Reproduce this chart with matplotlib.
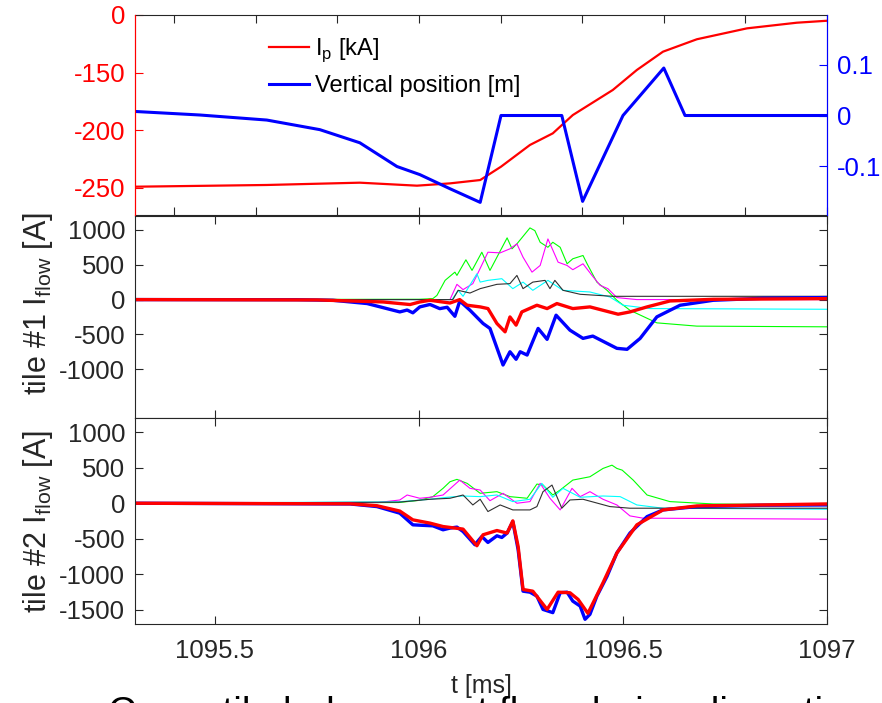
import matplotlib
matplotlib.use("Agg")
import matplotlib.pyplot as plt
import numpy as np

plt.rcParams['font.family'] = ['Liberation Sans', 'DejaVu Sans']
plt.rcParams['axes.unicode_minus'] = False

# top panel: plasma current (left axis) and vertical position (right axis)
t_ip = [1095.304, 1095.627, 1095.855, 1095.995, 1096.076, 1096.150, 1096.201, 1096.272,
        1096.328, 1096.377, 1096.475, 1096.534, 1096.598, 1096.681, 1096.804, 1096.926, 1097.0]
ip = [-249.3, -247.8, -245.8, -248.4, -246.4, -243.5, -231.9, -213.0,
      -202.9, -187.0, -165.2, -147.8, -131.9, -121.1, -111.6, -106.7, -105.0]
ip_ticks = [-250, -200, -150, -100]
ip_ticklabels = ['-250', '-200', '-150', '0']

t_z = [1095.304, 1095.463, 1095.627, 1095.757, 1095.855, 1095.946, 1096.002, 1096.076,
       1096.150, 1096.201, 1096.350, 1096.401, 1096.500, 1096.600, 1096.652, 1097.0]
zpos = [0.008, 0.001, -0.009, -0.028, -0.054, -0.101, -0.117, -0.145,
        -0.172, 0.0, 0.0, -0.170, 0.0, 0.094, 0.0, 0.0]

# tile #1 currents
t1_blue = [1095.304, 1095.70, 1095.789, 1095.873, 1095.953, 1095.971, 1095.985, 1096.002, 1096.027,
           1096.051, 1096.069, 1096.088, 1096.100, 1096.125, 1096.157, 1096.174, 1096.206, 1096.223,
           1096.238, 1096.248, 1096.265, 1096.292, 1096.314, 1096.336, 1096.370, 1096.402, 1096.426,
           1096.485, 1096.510, 1096.542, 1096.583, 1096.640, 1096.721, 1096.843, 1097.0]
i1_blue = [0, -2, -10, -57, -177, -150, -190, -105, -70,
           -130, -110, -240, -20, -153, -343, -414, -939, -749,
           -857, -749, -796, -414, -571, -224, -439, -557, -524,
           -700, -714, -557, -248, -81, -10, 19, 29]
t1_red = [1095.304, 1095.75, 1095.912, 1095.978, 1096.002, 1096.027, 1096.076, 1096.100, 1096.118,
          1096.150, 1096.169, 1096.191, 1096.211, 1096.223, 1096.238, 1096.252, 1096.289, 1096.314,
          1096.338, 1096.377, 1096.419, 1096.488, 1096.517, 1096.559, 1096.615, 1096.721, 1097.0]
i1_red = [0, -5, -34, -71, -34, -10, -49, 0, -81,
          -105, -129, -343, -463, -249, -367, -177, -81, -129,
          -57, -129, -105, -210, -177, -105, -20, 4, 14]
t1_green = [1095.304, 1096.0, 1096.034, 1096.044, 1096.064, 1096.088, 1096.093, 1096.115, 1096.130,
            1096.154, 1096.174, 1096.216, 1096.228, 1096.240, 1096.272, 1096.284, 1096.297, 1096.316,
            1096.328, 1096.346, 1096.363, 1096.377, 1096.402, 1096.412, 1096.436, 1096.461, 1096.485,
            1096.517, 1096.583, 1096.681, 1097.0]
i1_green = [0, 5, 14, 60, 276, 394, 347, 571, 419,
            680, 419, 886, 729, 800, 1029, 990, 823, 751,
            823, 751, 514, 586, 633, 514, 251, 133, -10,
            -153, -334, -381, -391]
t1_mag = [1095.304, 1096.076, 1096.093, 1096.108, 1096.132, 1096.169, 1096.199, 1096.223, 1096.240,
          1096.255, 1096.277, 1096.297, 1096.316, 1096.341, 1096.363, 1096.377, 1096.402, 1096.424,
          1096.444, 1096.463, 1096.485, 1096.534, 1097.0]
i1_mag = [0, 0, 219, 143, 229, 680, 671, 729, 800,
          609, 394, 490, 871, 537, 490, 429, 514, 347,
          204, 157, 29, 0, 0]
t1_cyan = [1095.304, 1096.081, 1096.096, 1096.108, 1096.142, 1096.150, 1096.169, 1096.203, 1096.230,
           1096.255, 1096.279, 1096.316, 1096.353, 1096.419, 1096.468, 1096.500, 1096.566, 1097.0]
i1_cyan = [0, 0, 133, 47, 371, 251, 276, 300, 157,
           251, 133, 276, 133, 109, 37, -81, -129, -139]
t1_black = [1095.304, 1096.083, 1096.096, 1096.125, 1096.150, 1096.191, 1096.223, 1096.240, 1096.255,
            1096.279, 1096.309, 1096.321, 1096.333, 1096.353, 1096.395, 1096.475, 1097.0]
i1_black = [0, 0, 133, 94, 157, 219, 229, 347, 157,
            251, 276, 157, 276, 133, 76, 47, 47]

# tile #2 currents
t2_blue = [1095.304, 1095.831, 1095.897, 1095.953, 1095.985, 1096.034, 1096.059, 1096.076, 1096.093,
           1096.108, 1096.137, 1096.154, 1096.169, 1096.191, 1096.203, 1096.216, 1096.230, 1096.243,
           1096.255, 1096.272, 1096.289, 1096.304, 1096.328, 1096.346, 1096.363, 1096.377, 1096.395,
           1096.407, 1096.419, 1096.436, 1096.461, 1096.485, 1096.517, 1096.559, 1096.598, 1096.681,
           1096.843, 1097.0]
i2_blue = [0, -10, -47, -140, -304, -318, -374, -350, -336,
           -398, -584, -468, -552, -458, -482, -420, -258, -654,
           -1238, -1252, -1308, -1495, -1540, -1260, -1252, -1378, -1448,
           -1634, -1564, -1308, -1028, -700, -420, -188, -94, -47,
           -28, -24]
t2_red = [1095.304, 1095.831, 1095.897, 1095.953, 1095.985, 1096.027, 1096.059, 1096.108, 1096.142,
          1096.157, 1096.191, 1096.216, 1096.230, 1096.243, 1096.255, 1096.279, 1096.314, 1096.341,
          1096.370, 1096.390, 1096.414, 1096.451, 1096.485, 1096.534, 1096.598, 1096.681, 1097.0]
i2_red = [0, -8, -35, -110, -234, -280, -328, -364, -598,
          -444, -384, -420, -248, -608, -1214, -1238, -1495, -1252,
          -1260, -1354, -1550, -1120, -700, -304, -94, -38, -10]
t2_green = [1095.304, 1095.95, 1096.0, 1096.034, 1096.059, 1096.076, 1096.093, 1096.118, 1096.150,
            1096.191, 1096.223, 1096.265, 1096.289, 1096.304, 1096.328, 1096.346, 1096.377, 1096.419,
            1096.451, 1096.473, 1096.485, 1096.498, 1096.525, 1096.559, 1096.615, 1096.721, 1097.0]
i2_green = [0, 10, 40, 93, 210, 303, 336, 280, 140,
            163, 93, 70, 270, 256, 116, 186, 326, 373,
            490, 536, 490, 466, 326, 116, 23, -10, -24]
t2_mag = [1095.304, 1095.90, 1095.953, 1095.971, 1096.002, 1096.027, 1096.059, 1096.100, 1096.125,
          1096.150, 1096.174, 1096.206, 1096.240, 1096.272, 1096.297, 1096.321, 1096.346, 1096.375,
          1096.395, 1096.419, 1096.451, 1096.485, 1096.517, 1096.549, 1097.0]
i2_mag = [0, 10, 46, 116, 70, 84, 116, 326, 210,
          186, 36, 140, 0, 23, 280, 70, -94, 210,
          93, 163, 56, -24, -178, -210, -224]
t2_cyan = [1095.304, 1095.95, 1096.027, 1096.069, 1096.108, 1096.150, 1096.191, 1096.230, 1096.272,
           1096.301, 1096.328, 1096.353, 1096.395, 1096.451, 1096.493, 1096.534, 1096.598, 1097.0]
i2_cyan = [0, 20, 56, 84, 102, 93, 116, 23, 56,
           280, 84, 210, 84, 102, 93, -24, -70, -84]
t2_black = [1095.304, 1095.95, 1096.027, 1096.076, 1096.108, 1096.132, 1096.150, 1096.169, 1096.199,
            1096.230, 1096.272, 1096.289, 1096.304, 1096.326, 1096.350, 1096.370, 1096.402, 1096.468,
            1096.517, 1097.0]
i2_black = [0, 15, 56, 70, 116, -24, 56, -117, -24,
            -94, -94, -47, 163, 256, -70, 46, 56, -47,
            -70, -70]

fig = plt.figure(figsize=(8.82, 7.03), dpi=100)
W = 692 / 882
L = 135 / 882
ax0 = fig.add_axes([L, 1 - 215 / 703, W, 200 / 703])
ax1 = fig.add_axes([L, 1 - 418 / 703, W, 202 / 703])
ax2 = fig.add_axes([L, 1 - 624 / 703, W, 206 / 703])

gray = '#262626'
fs = 18.5

# --- top panel
ax0.plot(t_ip, ip, color='#ff0000', lw=1.6, label='I$_\\mathregular{p}$ [kA]')
ax0.plot([], [], color='#0000ff', lw=2.2, label='Vertical position [m]')
ax0.set_xlim(1095.304, 1097.0)
ax0.set_ylim(-273.9, -100)
ax0.set_yticks(ip_ticks)
ax0.set_yticklabels(ip_ticklabels)
ax0.set_xticks(np.arange(1095.4, 1097.01, 0.2))
ax0.tick_params(axis='x', direction='in', top=True, labelbottom=False, length=6, color=gray)
ax0.tick_params(axis='y', direction='in', colors='#ff0000', labelsize=fs, length=6, pad=7)
ax0.spines['left'].set_color('#ff0000')
ax0.spines['right'].set_color('#0000ff')
for s in ['top', 'bottom']:
    ax0.spines[s].set_color(gray)
ax0r = ax0.twinx()
ax0r.plot(t_z, zpos, color='#0000ff', lw=2.2)
ax0r.set_ylim(-0.197, 0.199)
ax0r.set_yticks([-0.1, 0, 0.1])
ax0r.set_yticklabels(['-0.1', '0', '0.1'])
ax0r.tick_params(axis='y', direction='in', colors='#0000ff', labelsize=fs, length=6, pad=7)
ax0r.spines['right'].set_color('#0000ff')
ax0r.spines['left'].set_color('#ff0000')
ax0r.spines['top'].set_visible(False)
ax0r.spines['bottom'].set_visible(False)
ax0.legend(loc='upper left', bbox_to_anchor=(0.18, 0.94), frameon=False, fontsize=17,
           handlelength=1.7, handletextpad=0.25, labelspacing=0.45, borderaxespad=0)

# --- tile panels
def tile_panel(ax, series, yticks, label, label_y):
    for tt, ii, c, lw in series:
        ax.plot(tt, ii, color=c, lw=lw)
    ax.set_xlim(1095.304, 1097.0)
    ax.set_ylim(-1700, 1200)
    ax.set_yticks(yticks)
    ax.set_xticks([1095.5, 1096, 1096.5, 1097])
    ax.tick_params(direction='in', top=True, right=True, length=6, colors=gray,
                   labelsize=fs, pad=7)
    ax.tick_params(axis='x', pad=11)
    for s in ax.spines.values():
        s.set_color(gray)
    ax.set_ylabel(label, fontsize=22, color=gray)
    ax.yaxis.set_label_coords(-0.115, label_y)

tile_panel(ax1, [(t1_green, i1_green, '#00ff00', 0.8), (t1_mag, i1_mag, '#ff00ff', 0.8),
                 (t1_cyan, i1_cyan, '#00ffff', 0.8), (t1_black, i1_black, '#303030', 0.8),
                 (t1_blue, i1_blue, '#0000ff', 2.4), (t1_red, i1_red, '#ff0000', 2.4)],
           [-1000, -500, 0, 500, 1000], 'tile #1 I$_\\mathregular{flow}$ [A]', 0.565)
tile_panel(ax2, [(t2_green, i2_green, '#00ff00', 0.8), (t2_mag, i2_mag, '#ff00ff', 0.8),
                 (t2_cyan, i2_cyan, '#00ffff', 0.8), (t2_black, i2_black, '#303030', 0.8),
                 (t2_blue, i2_blue, '#0000ff', 2.4), (t2_red, i2_red, '#ff0000', 2.4)],
           [-1500, -1000, -500, 0, 500, 1000], 'tile #2 I$_\\mathregular{flow}$ [A]', 0.5)
ax1.set_xticklabels([])
ax2.set_xticklabels(['1095.5', '1096', '1096.5', '1097'])
ax2.set_xlabel('t [ms]', fontsize=18, color=gray, labelpad=8)

fig.text(108 / 882, -0.030, 'Cross-tile halo current flow during disruption',
         fontsize=28, color='black', va='baseline', ha='left', zorder=0)

fig.savefig('out.png', dpi=100)
